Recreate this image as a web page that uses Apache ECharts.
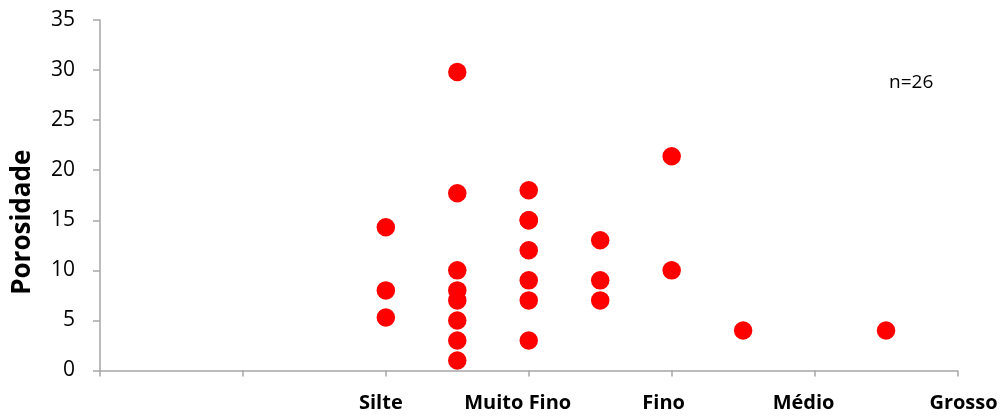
<!DOCTYPE html>
<html>
<head>
<meta charset="utf-8">
<script src="https://cdn.jsdelivr.net/npm/echarts@6/dist/echarts.min.js"></script>
<style>
  html, body { margin: 0; padding: 0; background: #ffffff; }
  #chart { width: 1001px; height: 417px; }
</style>
</head>
<body>
<div id="chart"></div>
<script>
// Grain-size classes along the x axis (one label per integer position)
const xTickLabels = ['', '', 'Silte', 'Muito Fino', 'Fino', 'Médio', 'Grosso'];
// Horizontal nudges (px) applied to each class label
const xLabelShift = [0, 0, -5, -11, -8, -11, 6];

// Samples: grain-size position and porosity (%)
const grainPosition = [
  2, 2, 2,
  2.5, 2.5, 2.5, 2.5, 2.5, 2.5, 2.5, 2.5,
  3, 3, 3, 3, 3, 3, 3,
  3.5, 3.5, 3.5,
  4, 4,
  4.5,
  5.5
];
const porosity = [
  14.3, 8, 5.3,
  29.8, 17.7, 10, 8, 7, 5, 3, 1,
  18, 15, 15, 12, 9, 7, 3,
  13, 9, 7,
  21.4, 10,
  4,
  4
];
const sampleCount = 26;

const points = grainPosition.map((x, i) => [x, porosity[i]]);

const chart = echarts.init(document.getElementById('chart'), null, { renderer: 'canvas' });

const FONT = '"Open Sans", "Noto Sans", sans-serif';

const rich = {};
xLabelShift.forEach((s, i) => {
  rich['l' + i] = {
    fontFamily: FONT,
    fontWeight: 'bold',
    fontSize: 20,
    color: '#000000',
    padding: s < 0 ? [0, -2 * s, 0, 0] : [0, 0, 0, 2 * s]
  };
});

chart.setOption({
  animation: false,
  backgroundColor: '#ffffff',
  title: {
    text: 'n=' + sampleCount,
    left: 889,
    top: 73,
    padding: 0,
    textStyle: { fontFamily: FONT, fontWeight: 'normal', fontSize: 19, color: '#000000' }
  },
  grid: { left: 100, right: 43.5, top: 20, bottom: 46.5 },
  xAxis: {
    type: 'value',
    min: 0,
    max: 6,
    interval: 1,
    axisLine: { show: true, onZero: false, lineStyle: { color: '#a6a6a6', width: 1.5 } },
    axisTick: { show: true, length: 6, lineStyle: { color: '#a6a6a6', width: 1.5 } },
    splitLine: { show: false },
    axisLabel: {
      margin: 23,
      showMinLabel: true,
      showMaxLabel: true,
      formatter: function (v) {
        const i = Math.round(v);
        const t = xTickLabels[i];
        return t ? '{l' + i + '|' + t + '}' : '';
      },
      rich: rich
    }
  },
  yAxis: {
    type: 'value',
    min: 0,
    max: 35,
    interval: 5,
    name: 'Porosidade',
    nameLocation: 'middle',
    nameGap: 64,
    nameRotate: 90,
    nameTextStyle: {
      fontFamily: FONT,
      fontWeight: 'bold',
      fontSize: 26,
      color: '#000000',
      padding: [0, 54, 0, 0]
    },
    axisLine: { show: true, lineStyle: { color: '#a6a6a6', width: 1.5 } },
    axisTick: { show: true, length: 7, lineStyle: { color: '#a6a6a6', width: 1.5 } },
    splitLine: { show: false },
    axisLabel: {
      margin: 25,
      fontFamily: FONT,
      fontSize: 21,
      color: '#000000'
    }
  },
  series: [{
    type: 'scatter',
    data: points,
    symbol: 'circle',
    symbolSize: 18.5,
    itemStyle: { color: '#ff0000', opacity: 1 }
  }]
});
</script>
</body>
</html>
